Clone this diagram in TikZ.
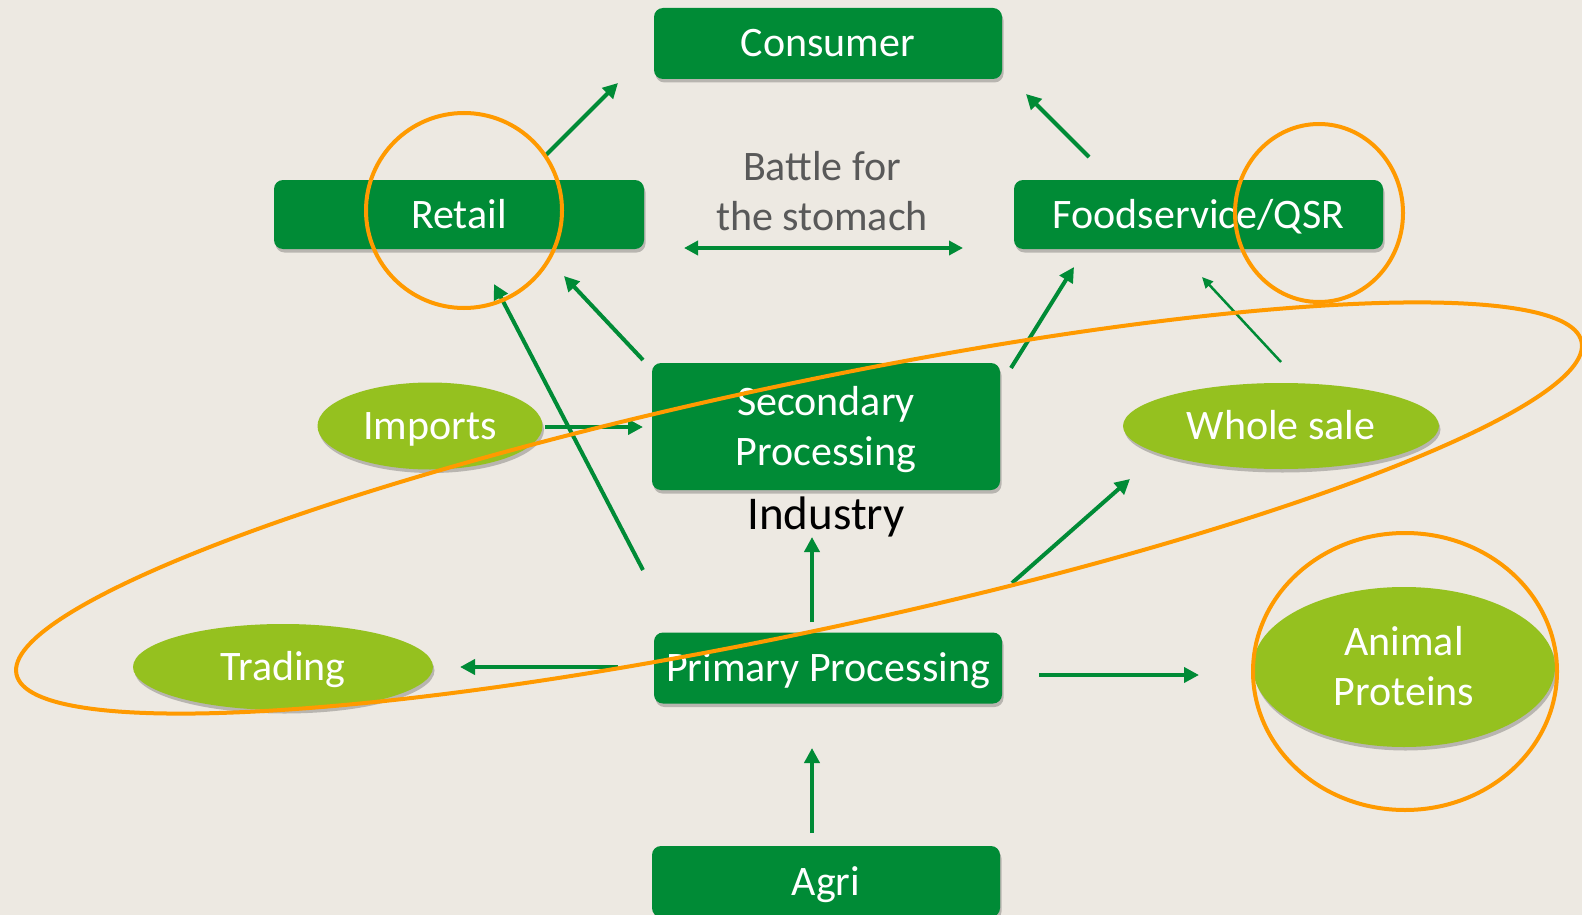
\documentclass[tikz,border=0pt]{standalone}
\usepackage{fontspec}
\setmainfont{Carlito}
\usetikzlibrary{arrows.meta,shadows,shapes.geometric}

\definecolor{paper}{HTML}{EDE9E2}
\definecolor{leaf}{HTML}{008B36}
\definecolor{lime}{HTML}{95C11F}
\definecolor{amber}{HTML}{FF9A00}
\definecolor{slate}{HTML}{595959}

% struts that give two-line labels the same line box as one-line labels
\newcommand\hiStrut{\rule{0pt}{35pt}}
\newcommand\loStrut{\rule[-8pt]{0pt}{8pt}}

\begin{document}
\begin{tikzpicture}[x=1pt,y=-1pt,
  label font/.style={font=\fontsize{42}{50}\selectfont},
  softshadow/.style={drop shadow={shadow xshift=1.5pt,shadow yshift=-3.5pt,opacity=0.22,fill=black}},
  box/.style={label font,fill=leaf,text=white,rounded corners=9pt,inner sep=0pt,
    align=center,minimum width=348pt,minimum height=71pt,softshadow},
  oneline/.style={text height=35pt,text depth=8pt},
  blob/.style={label font,ellipse,fill=lime,text=white,inner sep=0pt,align=center,softshadow},
  flow/.style={draw=leaf,line width=4pt,-{Triangle[length=15pt,width=15pt]}},
  twoway/.style={draw=leaf,line width=3.5pt,{Triangle[length=14pt,width=14pt]}-{Triangle[length=14pt,width=14pt]}},
  thinflow/.style={draw=leaf,line width=2.5pt,-{Triangle[length=11pt,width=10pt]}},
  ring/.style={draw=amber,line width=4pt}
]
\useasboundingbox (0,0) rectangle (1582,915);
\clip (0,0) rectangle (1582,915);
\fill[paper] (0,0) rectangle (1582,915);

% arrow end points
\coordinate (rcA) at (546,155);  \coordinate (rcB) at (618,83);
\coordinate (fcA) at (1089,157); \coordinate (fcB) at (1026,94);
\coordinate (btA) at (684,248);  \coordinate (btB) at (963,248);
\coordinate (srA) at (643,360);  \coordinate (srB) at (564,276);
\coordinate (prA) at (643,570);  \coordinate (prB) at (494,284);
\coordinate (sfA) at (1011,368); \coordinate (sfB) at (1074,267);
\coordinate (wfA) at (1281,362); \coordinate (wfB) at (1202,277);
\coordinate (isA) at (545,427);  \coordinate (isB) at (643,427);
\coordinate (piA) at (812,622);  \coordinate (piB) at (812,537);
\coordinate (pwA) at (1012,583); \coordinate (pwB) at (1130,479);
\coordinate (ptA) at (618,667);  \coordinate (ptB) at (460,667);
\coordinate (paA) at (1039,675); \coordinate (paB) at (1199,675);
\coordinate (apA) at (812,833);  \coordinate (apB) at (812,748);

% connectors
\draw[flow] (rcA) -- (rcB);
\draw[flow] (fcA) -- (fcB);
\draw[twoway] (btA) -- (btB);
\draw[flow] (srA) -- (srB);
\draw[flow] (prA) -- (prB);
\draw[flow] (sfA) -- (sfB);
\draw[thinflow] (wfA) -- (wfB);
\draw[flow] (isA) -- (isB);
\draw[flow] (piA) -- (piB);
\draw[flow] (pwA) -- (pwB);
\draw[flow] (ptA) -- (ptB);
\draw[flow] (paA) -- (paB);
\draw[flow] (apA) -- (apB);

% boxes
\node[box,oneline] (consumer) at (828,43.5) {Consumer};
\node[box,oneline,minimum width=370pt,minimum height=69pt] (retail) at (459,214.5) {Retail};
\node[box,oneline,minimum width=369pt,minimum height=69pt] (food) at (1198.5,214.5) {Foodservice/QSR};
\node[box,minimum height=127pt] (secondary) at (826,426.5) {\hiStrut Secondary\\Processing\loStrut};
\node[box,oneline] (primary) at (828,668) {Primary Processing};
\node[box,oneline] (agri) at (826,881.5) {Agri};

% ellipses
\node[blob,oneline,minimum width=225pt,minimum height=87pt] (imports) at (430,426) {Imports};
\node[blob,oneline,minimum width=316pt,minimum height=86pt] (wholesale) at (1281,426) {Whole sale};
\node[blob,oneline,minimum width=300pt,minimum height=86pt] (trading) at (283,667) {Trading};
\node[blob,minimum width=302pt,minimum height=160pt] (animal) at (1404,667) {\hiStrut Animal\\Proteins\loStrut};

% free labels
\node[label font,text=slate,align=center,inner sep=0pt] (battle) at (822,191.5) {\hiStrut Battle for\\the stomach\loStrut};
\node[font=\fontsize{47}{56}\selectfont,text=black,anchor=base,inner sep=0pt] (industry) at (826,529) {Industry};

% highlight rings
\draw[ring] (464,210.5) ellipse [x radius=98, y radius=97.5];
\draw[ring] (1319,213) ellipse [x radius=84, y radius=89];
\draw[ring] (1405,671.5) ellipse [x radius=152, y radius=138.5];
\draw[ring,rotate around={12:(799,508)}] (799,508) ellipse [x radius=800, y radius=123.5];
\end{tikzpicture}
\end{document}
